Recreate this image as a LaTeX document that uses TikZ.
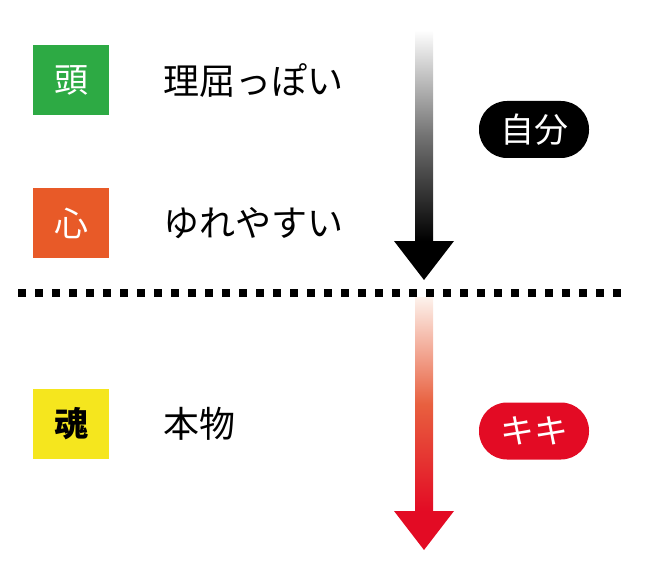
\documentclass[tikz,border=0pt]{standalone}
\usepackage{fontspec}
\setmainfont{Noto Sans CJK JP}
\usetikzlibrary{positioning}
\definecolor{headgreen}{HTML}{2DAA44}
\definecolor{heartorange}{HTML}{E85A28}
\definecolor{soulyellow}{HTML}{F5E61E}
\definecolor{kikired}{HTML}{E30B24}
\definecolor{kikisalmon}{HTML}{E8603F}
\definecolor{kikipale}{HTML}{FDF2EC}

\begin{document}
\begin{tikzpicture}[x=1pt,y=-1pt,
  box/.style={minimum width=76pt,minimum height=70pt,inner sep=0pt,font=\fontsize{34}{40}\selectfont},
  word/.style={anchor=west,inner sep=0pt,font=\fontsize{36}{42}\selectfont},
  pill/.style={minimum width=110pt,minimum height=57pt,rounded corners=28pt,inner sep=0pt,text=white,font=\fontsize{34}{40}\selectfont}]
\useasboundingbox (0,0) rectangle (645,564);

\foreach \i/\y/\kanji/\fillc/\ink/\word in {1/80/頭/headgreen/white/理屈っぽい, 2/223/心/heartorange/white/ゆれやすい, 3/424/\textbf{魂}/soulyellow/black/本物} {
    \node[box,fill=\fillc,text=\ink] (box\i) at (71,\y) {\kanji};
    \node[word] (word\i) at (163,\y) {\word};
}

% dotted border
\coordinate (lineL) at (18,293);
\coordinate (lineR) at (622,293);
\draw[line width=8pt,dash pattern=on 8pt off 9pt] (lineL) -- (lineR);

% black arrow
\coordinate (selfTop) at (424,30);
\coordinate (selfBase) at (424,241);
\coordinate (selfTip) at (424,280);
\shade[top color=white,bottom color=black,middle color=black!55] ([xshift=-9pt]selfTop) rectangle ([xshift=9pt]selfBase);
\fill[black] ([xshift=-30pt]selfBase) -- ([xshift=30pt]selfBase) -- (selfTip) -- cycle;

% red arrow
\coordinate (kikiTop) at (424,297);
\coordinate (kikiBase) at (424,511);
\coordinate (kikiTip) at (424,550);
\shade[top color=kikipale,bottom color=kikired,middle color=kikisalmon] ([xshift=-9pt]kikiTop) rectangle ([xshift=9pt]kikiBase);
\fill[kikired] ([xshift=-30pt]kikiBase) -- ([xshift=30pt]kikiBase) -- (kikiTip) -- cycle;

\node[pill,fill=black] (jibun) at (534,129.5) {自分};
\node[pill,fill=kikired] (kiki) at (534,431) {キキ};
\end{tikzpicture}
\end{document}
